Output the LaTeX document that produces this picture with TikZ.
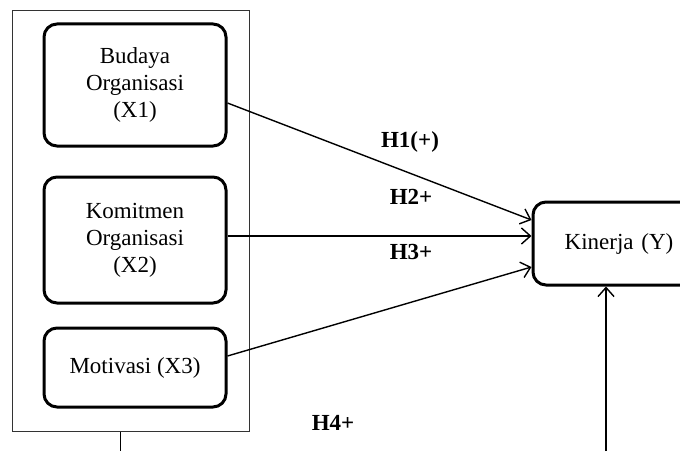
\documentclass[tikz,border=0pt]{standalone}
\usepackage{fontspec}
\setmainfont{Liberation Serif}
\usetikzlibrary{arrows.meta,calc}
\tikzset{
  varbox/.style={draw, line width=3pt, rounded corners=13pt, align=center, inner sep=0pt,
    font=\fontsize{23}{27}\selectfont},
  hyp/.style={font=\fontsize{23}{27}\selectfont\bfseries, inner sep=0pt},
  link/.style={line width=1.4pt, -{Straight Barb[length=9pt,width=16pt,line width=1.4pt]}},
  grpbox/.style={draw=black!80, line width=1pt, inner sep=0pt}
}
\begin{document}
\begin{tikzpicture}[x=1pt,y=1pt]
\clip (0,0) rectangle (680,451);
\useasboundingbox (0,0) rectangle (680,451);
\node[grpbox, minimum width=237pt, minimum height=420pt] (grp) at (130.5,230) {};
\node[varbox, minimum width=182pt, minimum height=122pt] (x1) at (135,366) {Budaya\\Organisasi\\(X1)};
\node[varbox, minimum width=182pt, minimum height=126pt] (x2) at (135,211) {Komitmen\\Organisasi\\(X2)};
\node[varbox, minimum width=182pt, minimum height=79pt] (x3) at (135,83.5) {Motivasi (X3)};
\node[varbox, minimum width=172pt, minimum height=83pt, text width=172pt] (y) at (619,207.5) {Kinerja (Y)};
\draw[link] ([yshift=-18pt]x1.east) -- ([yshift=23.5pt]y.west);
\draw[link] ([yshift=4pt]x2.east) -- ([yshift=7.5pt]y.west);
\draw[link] ([yshift=11.5pt]x3.east) -- ([yshift=-23.5pt]y.west);
\coordinate (ybot) at (606,0);
\draw[link] (ybot) -- ([xshift=-13pt]y.south);
\coordinate (gbot) at (120.5,0);
\draw[line width=1pt] ([xshift=-10pt]grp.south) -- (gbot);
\node[hyp] (h1) at (410,309) {H1(+)};
\node[hyp] (h2) at (411,254) {H2+};
\node[hyp] (h3) at (411,199) {H3+};
\node[hyp] (h4) at (333,28) {H4+};
\end{tikzpicture}
\end{document}
